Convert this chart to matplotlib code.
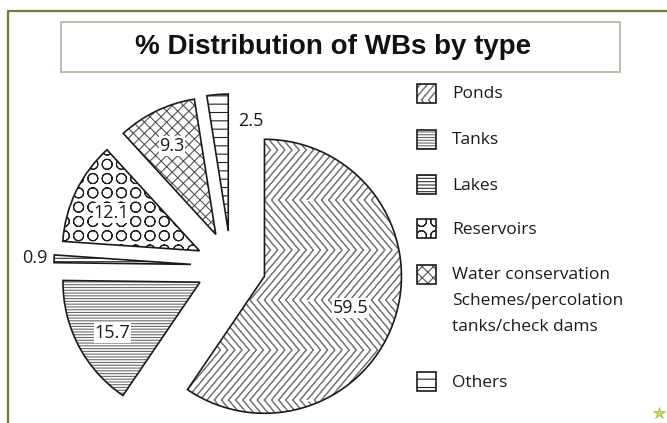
import warnings
import numpy as np
import matplotlib
matplotlib.use("Agg")
import matplotlib.pyplot as plt
import matplotlib.hatch as mhatch
from matplotlib.path import Path
from matplotlib.patches import Rectangle, Wedge

# ---- data -------------------------------------------------------------
categories = ["Ponds", "Tanks", "Lakes", "Reservoirs",
              "Water conservation\nSchemes/percolation\ntanks/check dams",
              "Others"]
shares = [59.5, 15.7, 0.9, 12.1, 9.3, 2.5]
title = "% Distribution of WBs by type"

# ---- styling ------------------------------------------------------------
hatches = ["z", "------", "-----", "c", "xxx", "--"]
hatch_colors = ["#7a7a7a", "#6a6a6a", "#333333", "#222222", "#555555", "#222222"]
explode = [35, 35, 40, 35, 35, 35]
# label placement: (fraction along the wedge angle, fraction of radius, h-align)
label_pos = [(0.485, 0.67, "center"), (0.545, 0.74, "center"),
             (0.5, 1.05, "right"), (0.56, 0.70, "center"),
             (0.52, 0.72, "center"), (-0.55, 0.81, "left")]
label_box = [True, True, False, True, True, False]


class ZigZagHatch(mhatch.HatchPatternBase):
    """Vertical zig-zag lines, selected with the 'z' hatch character.

    Each line is traced forward and back so that it encloses no area
    (hatch paths are filled as well as stroked)."""
    n_lines = 14
    amp = 0.42

    def __init__(self, hatch, density):
        self.active = "z" in hatch
        ks = np.arange(-7, self.n_lines + 1)
        self.x0 = ks / self.n_lines
        self.num_vertices = len(self.x0) * 5 if self.active else 0

    def set_vertices_and_codes(self, vertices, codes):
        ys = np.array([0.0, 0.5, 1.0])
        dx = np.array([0.0, self.amp, 0.0])
        ys = np.concatenate([ys, ys[-2::-1]])
        dx = np.concatenate([dx, dx[-2::-1]])
        for i, x0 in enumerate(self.x0):
            sl = slice(i * 5, i * 5 + 5)
            vertices[sl, 0] = x0 + dx
            vertices[sl, 1] = ys
            codes[i * 5] = Path.MOVETO
            codes[i * 5 + 1:i * 5 + 5] = Path.LINETO


class RingHatch(mhatch.HatchPatternBase):
    """Grid of open rings, selected with the 'c' hatch character."""
    n_rows = 7
    radius = 0.05

    def __init__(self, hatch, density):
        self.active = "c" in hatch
        circ = Path.unit_circle()
        self.ring_v = np.concatenate([circ.vertices, circ.vertices[::-1] * 0.98])
        self.ring_c = np.concatenate([circ.codes, circ.codes])
        n = self.n_rows
        centers = [((i + 0.5) / n, (j + 0.5) / n)
                   for j in range(n) for i in range(n)]
        self.centers = np.array(centers)
        self.num_vertices = (len(self.centers) * len(self.ring_v)
                             if self.active else 0)

    def set_vertices_and_codes(self, vertices, codes):
        m = len(self.ring_v)
        for k, (cx, cy) in enumerate(self.centers):
            sl = slice(k * m, (k + 1) * m)
            vertices[sl] = self.ring_v * self.radius + (cx, cy)
            codes[sl] = self.ring_c


mhatch._hatch_types.extend([ZigZagHatch, RingHatch])
warnings.filterwarnings("ignore", category=matplotlib.MatplotlibDeprecationWarning)

plt.rcParams["hatch.linewidth"] = 0.8
W, H = 667, 423
TEXT_FONT = ["Open Sans", "DejaVu Sans"]

fig = plt.figure(figsize=(W / 100, H / 100), dpi=100)
ax = fig.add_axes([0, 0, 1, 1])

wedges, _ = ax.pie(shares, startangle=90, counterclock=False, radius=137,
                   center=(231, H - 266), explode=explode,
                   colors=["white"] * len(shares), hatch=hatches,
                   wedgeprops=dict(linewidth=0), frame=False)
ax.set_xlim(0, W)
ax.set_ylim(0, H)
ax.set_aspect("equal")
ax.axis("off")

for w, hc in zip(wedges, hatch_colors):
    w.set_edgecolor(hc)
    w.set_linewidth(0)
    ax.add_patch(Wedge(w.center, w.r, w.theta1, w.theta2, fill=False,
                       edgecolor="#1a1a1a", linewidth=1.2, zorder=3))

# value labels
for w, val, (af, rf, ha), boxed in zip(wedges, shares, label_pos, label_box):
    ang = np.deg2rad(w.theta1 + af * (w.theta2 - w.theta1))
    cx, cy = w.center
    x = cx + rf * w.r * np.cos(ang)
    y = cy + rf * w.r * np.sin(ang)
    bbox = dict(facecolor="white", edgecolor="none", pad=0.5) if boxed else None
    ax.text(x, y, f"{val:g}", ha=ha, va="center", fontsize=13,
            family=TEXT_FONT, color="#1a1a1a", bbox=bbox, zorder=5)

# legend
rows = [93, 139, 185, 229, 274, 382]
for lab, hp, hc, ry in zip(categories, hatches, hatch_colors, rows):
    ax.add_patch(Rectangle((417, H - ry - 9.5), 19, 19, facecolor="white",
                           hatch=hp, edgecolor=hc, linewidth=0, zorder=3))
    ax.add_patch(Rectangle((417, H - ry - 9.5), 19, 19, fill=False,
                           edgecolor="#1a1a1a", linewidth=1.2, zorder=4))
    ax.text(452, H - ry + 7, lab, ha="left", va="top", fontsize=12.5,
            family=TEXT_FONT, color="#1a1a1a", linespacing=1.82)

# title box
ax.add_patch(Rectangle((61, H - 72), 559, 50, fill=False,
                       edgecolor="#b9bfae", linewidth=1.4))
ax.text(333, H - 47, title, ha="center", va="center", fontsize=20,
        fontweight="bold", family=["Liberation Sans", "DejaVu Sans"],
        color="#111111")

# frame lines and corner star
ax.plot([8, 8, W + 5], [-5, H - 11, H - 11], color="#6e7d3c", linewidth=1.6,
        solid_capstyle="butt")
ax.plot(659, H - 413, marker="*", markersize=9, color="#c5d86d",
        markeredgecolor="#9fb84a", markeredgewidth=0.5)

fig.savefig("out.png", dpi=100)
